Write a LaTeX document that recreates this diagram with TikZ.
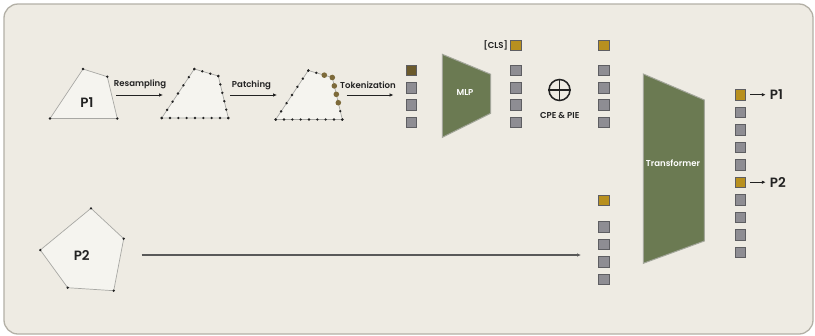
\documentclass[tikz,border=0pt]{standalone}
\usepackage{fontspec}
\setmainfont{Poppins}
\newfontfamily\popmed{Poppins Medium}
\newfontfamily\popsemi{Poppins SemiBold}
\usetikzlibrary{arrows.meta,calc}
\definecolor{bgc}{HTML}{EEEBE3}
\definecolor{framec}{HTML}{B3B0A6}
\definecolor{polyfill}{HTML}{F5F4EF}
\definecolor{polyline}{HTML}{A8A8A4}
\definecolor{tokgray}{HTML}{8E8D93}
\definecolor{tokedge}{HTML}{5E5E62}
\definecolor{tokgold}{HTML}{B8901F}
\definecolor{tokbrown}{HTML}{6B5A2C}
\definecolor{dotbrown}{HTML}{7D6A3A}
\definecolor{olivefill}{HTML}{6B7A52}
\definecolor{oliveedge}{HTML}{A3A69A}
\definecolor{inkc}{HTML}{222222}
\tikzset{
  tok/.style={draw=tokedge, line width=0.8bp, fill=tokgray, minimum size=10.5bp, inner sep=0pt, outer sep=0pt},
  tokg/.style={tok, fill=tokgold},
  tokb/.style={tok, fill=tokbrown},
  poly/.style={draw=polyline, fill=polyfill, line width=0.7bp},
  trap/.style={draw=oliveedge, fill=olivefill, line width=1bp},
  arr/.style={-{Latex[length=4bp,width=3.6bp]}, line width=0.9bp, draw=inkc},
  lbl/.style={font=\popsemi\fontsize{8.6}{10}\selectfont, text=inkc, inner sep=0pt},
  biglbl/.style={font=\popsemi\fontsize{13.5}{15}\selectfont, text=inkc, inner sep=0pt},
  wlbl/.style={font=\popsemi\fontsize{8.6}{10}\selectfont, text=white, inner sep=0pt},
}
\begin{document}
\begin{tikzpicture}[x=1bp,y=-1bp]
\useasboundingbox (0,0) rectangle (815,335);
\fill[white] (0,0) rectangle (815,335);
\draw[framec, fill=bgc, line width=1.3bp, rounded corners=14bp] (4,4) rectangle (813,334);

% ---------- P1 ----------
\coordinate (a1) at (50,118.5);
\coordinate (b1) at (83,69);
\coordinate (c1) at (107.3,76.7);
\coordinate (d1) at (117.3,118.5);
\draw[poly] (a1)--(b1)--(c1)--(d1)--cycle;
\foreach \p in {a1,b1,c1,d1} \fill[inkc] (\p) circle (1.3bp);
\node[biglbl] (p1lbl) at (87,103) {P1};

% ---------- resampled shapes ----------
\foreach \sx/\sy/\nm in {0/0/2, 114/1.5/3}{
  \begin{scope}[shift={(\sx,\sy)}]
    \coordinate (a\nm) at (161.7,118);
    \coordinate (b\nm) at (194.3,69);
    \coordinate (c\nm) at (218.3,76);
    \coordinate (d\nm) at (228.3,118);
    \draw[poly] (a\nm)--(b\nm)--(c\nm)--(d\nm)--cycle;
    \foreach \s/\e/\n in {a/b/6, b/c/3, c/d/5, d/a/8}{
      \foreach \i in {0,...,\n}{
        \fill[inkc] ($(\s\nm)!\i/\n!(\e\nm)$) circle (1.3bp);
      }
    }
  \end{scope}
}
% patch points (brown)
\foreach \f in {2/3}{\fill[dotbrown] ($(b3)!\f!(c3)$) circle (2.8bp);}
\foreach \f in {0,1/5,2/5,3/5}{\fill[dotbrown] ($(c3)!\f!(d3)$) circle (2.8bp);}

% ---------- arrows row 1 ----------
\coordinate (r1s) at (116,95);  \coordinate (r1e) at (163,95);
\coordinate (r2s) at (230,95);  \coordinate (r2e) at (277,95);
\coordinate (r3s) at (346.5,95); \coordinate (r3e) at (393.5,95);
\draw[arr] (r1s) -- (r1e);
\draw[arr] (r2s) -- (r2e);
\draw[arr] (r3s) -- (r3e);
\node[lbl] (resl) at (140,84.5) {Resampling};
\node[lbl] (patl) at (251.5,85.5) {Patching};
\node[lbl] (tokl) at (368,85.5) {Tokenization};

% ---------- token column 1 ----------
\node[tokb] (t1a) at (411.3,70.3) {};
\node[tok]  (t1b) at (411.3,87.7) {};
\node[tok]  (t1c) at (411.3,105.1) {};
\node[tok]  (t1d) at (411.3,122.5) {};

% ---------- MLP ----------
\draw[trap] (442.3,54.3) -- (490.7,74.3) -- (490.7,113.3) -- (442.3,137.3) -- cycle;
\node[wlbl] (mlpl) at (465,93) {MLP};

% ---------- token column 2 ----------
\node[tokg] (t2cls) at (515.7,45.3) {};
\node[tok]  (t2a) at (515.7,70.3) {};
\node[tok]  (t2b) at (515.7,87.7) {};
\node[tok]  (t2c) at (515.7,105.1) {};
\node[tok]  (t2d) at (515.7,122.5) {};
\node[lbl, anchor=east] (clsl) at ([xshift=-2.5bp]t2cls.west) {[CLS]};

% ---------- CPE & PIE ----------
\node[circle, draw=inkc, line width=1.5bp, minimum size=21bp, inner sep=0pt] (plus) at (559.5,90) {};
\draw[inkc, line width=1.5bp] (plus.north) -- (plus.south) (plus.west) -- (plus.east);
\node[lbl] (cpel) at (559.7,115.7) {CPE \& PIE};

% ---------- token column 3 ----------
\node[tokg] (t3cls) at (604,45.3) {};
\node[tok]  (t3a) at (604,70.3) {};
\node[tok]  (t3b) at (604,87.7) {};
\node[tok]  (t3c) at (604,105.1) {};
\node[tok]  (t3d) at (604,122.5) {};
\node[tokg] (t4cls) at (604,200.5) {};
\node[tok]  (t4a) at (604,226.8) {};
\node[tok]  (t4b) at (604,244.4) {};
\node[tok]  (t4c) at (604,262) {};
\node[tok]  (t4d) at (604,279.6) {};

% ---------- Transformer ----------
\draw[trap] (643.3,74) -- (704.3,100) -- (704.3,241) -- (643.3,263.3) -- cycle;
\node[wlbl] (trl) at (673,163.5) {Transformer};

% ---------- output column ----------
\foreach \i in {0,...,9}{
  \pgfmathsetmacro{\yy}{94.7+17.5*\i}
  \ifnum\i=0 \node[tokg] (o\i) at (740.5,\yy) {};
  \else\ifnum\i=5 \node[tokg] (o\i) at (740.5,\yy) {};
  \else \node[tok] (o\i) at (740.5,\yy) {};
  \fi\fi
}
\coordinate (op1) at ([xshift=20bp]o0.east);
\coordinate (op2) at ([xshift=20bp]o5.east);
\draw[arr] ([xshift=4.5bp]o0.east) -- (op1);
\draw[arr] ([xshift=4.5bp]o5.east) -- (op2);
\node[biglbl, anchor=west] (outp1) at ([xshift=4bp]op1) {P1};
\node[biglbl, anchor=west] (outp2) at ([xshift=4bp]op2) {P2};

% ---------- P2 ----------
\coordinate (q1) at (91,208.3);
\coordinate (q2) at (123.7,238.7);
\coordinate (q3) at (113.7,290.7);
\coordinate (q4) at (67.7,287.7);
\coordinate (q5) at (40.3,250);
\draw[poly] (q1)--(q2)--(q3)--(q4)--(q5)--cycle;
\foreach \p in {q1,q2,q3,q4,q5} \fill[inkc] (\p) circle (1.3bp);
\node[biglbl] (p2lbl) at (81.7,255) {P2};
\coordinate (p2s) at (141.5,255);
\coordinate (p2e) at (581,255);
\draw[arr, draw=black!65, line width=1.2bp] (p2s) -- (p2e);
\end{tikzpicture}
\end{document}
